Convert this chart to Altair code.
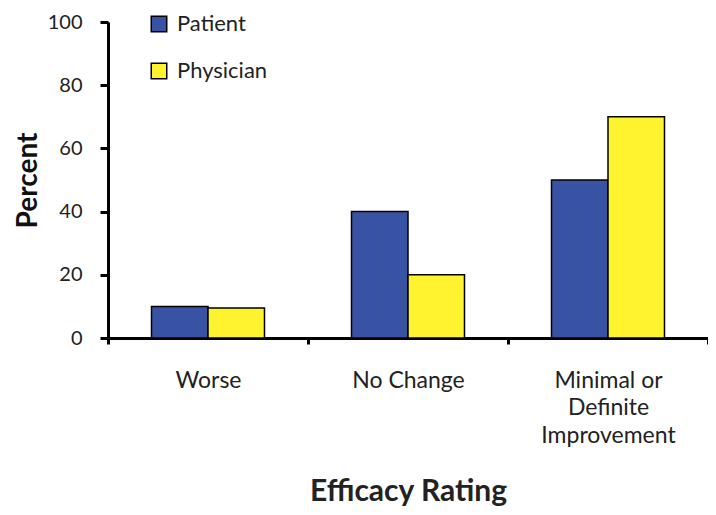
import altair as alt
import pandas as pd

categories = ["Worse", "No Change", "Minimal or Definite Improvement"]
patient = [10, 40, 50]
physician = [9.5, 20, 70]
series = ["Patient", "Physician"]

rows = []
for c, p, ph in zip(categories, patient, physician):
    rows.append({"rating": c, "group": "Patient", "value": p})
    rows.append({"rating": c, "group": "Physician", "value": ph})
df = pd.DataFrame(rows)

FONT = "Lato"

chart = alt.Chart(df).mark_bar(stroke="black", strokeWidth=1.5).encode(
    x=alt.X("rating:N", sort=categories,
            scale=alt.Scale(paddingInner=0, paddingOuter=0),
            axis=alt.Axis(title="Efficacy Rating", labelAngle=0, tickBand="extent",
                          domainWidth=3, domainColor="black", tickWidth=3, tickSize=6,
                          tickColor="black", labelFontSize=23, labelFont=FONT,
                          labelColor="#222", labelPadding=25, labelLineHeight=27.5,
                          labelExpr="datum.value == 'Minimal or Definite Improvement' ? ['Minimal or','Definite','Improvement'] : datum.label",
                          titleFont=FONT, titleFontSize=30, titleFontWeight="bold",
                          titleColor="#222", titleY=138, titleBaseline="top")),
    xOffset=alt.XOffset("group:N", sort=series,
                        scale=alt.Scale(paddingInner=0, paddingOuter=0.77)),
    y=alt.Y("value:Q", scale=alt.Scale(domain=[0, 100]),
            axis=alt.Axis(title="Percent", values=[0, 20, 40, 60, 80, 100], grid=False,
                          domainWidth=3, domainColor="black", tickWidth=3, tickSize=8,
                          tickColor="black", labelFontSize=20, labelFont=FONT,
                          labelColor="#222", labelPadding=18,
                          titleFont=FONT, titleFontSize=28, titleFontWeight="bold",
                          titleColor="#111", titleAngle=270, titleX=-80,
                          titleBaseline="middle", titleAlign="center")),
    color=alt.Color("group:N", sort=series,
                    scale=alt.Scale(domain=series, range=["#3953A4", "#FFF22E"]),
                    legend=alt.Legend(title=None, orient="none", legendX=40, legendY=-9,
                                      symbolType="square", symbolSize=240,
                                      symbolStrokeColor="black", symbolStrokeWidth=1.5,
                                      symbolOpacity=1,
                                      labelFont=FONT, labelFontSize=22, labelColor="#222",
                                      labelOffset=7, rowPadding=25, padding=0)),
).properties(
    width=600, height=316,
    autosize=alt.AutoSizeParams(type="none"),
    padding={"left": 100, "top": 14, "right": 0, "bottom": 170},
).configure_view(stroke=None)

chart.save("out.html", embed_options={"renderer": "svg", "actions": False})
